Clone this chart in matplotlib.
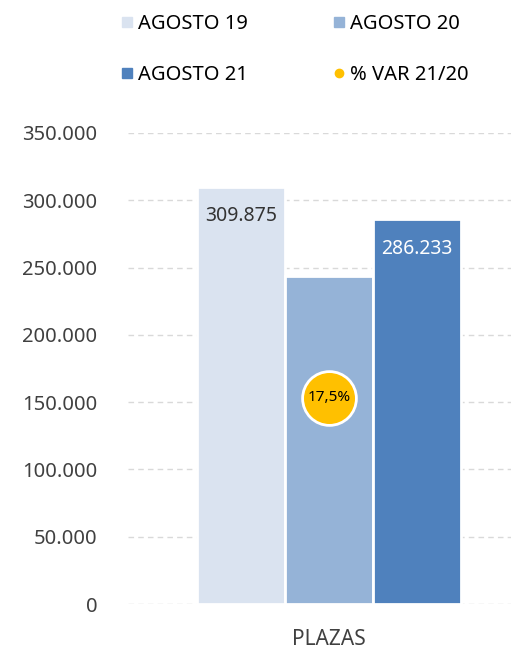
import matplotlib.pyplot as plt
from matplotlib.lines import Line2D

plt.rcParams['font.family'] = ['Noto Sans', 'DejaVu Sans']

series = ["AGOSTO 19", "AGOSTO 20", "AGOSTO 21"]
values = [309875, 243600, 286233]
colors = ["#dae3f0", "#95b3d7", "#4f81bd"]
category = "PLAZAS"
var_label = "% VAR 21/20"
var_value = 0.175
yticks = [0, 50000, 100000, 150000, 200000, 250000, 300000, 350000]


def fmt(v):
    return f"{v:,.0f}".replace(",", ".")


fig = plt.figure(figsize=(5.11, 6.5), dpi=100)
ax = fig.add_axes([128 / 511, 46 / 650, 383 / 511, 471 / 650])

w = 0.23
offsets = [-w, 0, w]
for name, val, col, off in zip(series, values, colors, offsets):
    ax.bar(off, val, width=w, color=col, edgecolor="white", linewidth=2, zorder=2, label=name)

# data labels for first and last bars
ax.annotate(fmt(values[0]), (offsets[0], values[0]), xytext=(0, -21), textcoords="offset points",
            ha="center", va="center", fontsize=14, color="#333333", fontweight="light", zorder=3)
ax.annotate(fmt(values[2]), (offsets[2], values[2]), xytext=(0, -22), textcoords="offset points",
            ha="center", va="center", fontsize=14, color="white", zorder=3)

ax.set_ylim(0, 350000)
ax.set_xlim(-0.525, 0.475)
ax.set_yticks(yticks)
ax.set_yticklabels([fmt(t) for t in yticks], fontsize=14.5, color="#404040", fontweight="light")
ax.set_xticks([0])
ax.set_xticklabels([category], fontsize=15, color="#404040", fontweight="light")
ax.tick_params(axis="y", length=0, pad=22)
ax.tick_params(axis="x", length=0, pad=18)
ax.grid(axis="y", color="#d9d9d9", linestyle=(0, (4, 3)), linewidth=1, zorder=0)
ax.set_axisbelow(True)
for s in ax.spines.values():
    s.set_visible(False)

# % variation on a secondary scale
ax2 = ax.twinx()
ax2.set_ylim(0, 0.4)
ax2.axis("off")
ax2.scatter([0], [var_value], s=1500, color="#ffc000", edgecolor="white", linewidth=2, zorder=4)
ax2.text(0, var_value, f"{var_value * 100:.1f}%".replace(".", ","), ha="center", va="center",
         fontsize=11, fontweight="bold", color="black", zorder=5)

handles = [Line2D([], [], marker="s", linestyle="none", markersize=7, color=c) for c in colors]
handles.append(Line2D([], [], marker="o", linestyle="none", markersize=6, color="#ffc000"))
labels = series + [var_label]
order = [0, 2, 1, 3]
fig.legend([handles[i] for i in order], [labels[i] for i in order], ncol=2,
           loc="upper left", bbox_to_anchor=(99 / 511, 1.007), frameon=False,
           fontsize=14.5, handletextpad=0.05, columnspacing=4.0, labelspacing=1.55,
           handlelength=1.0, labelcolor="black")

fig.savefig("out.png", dpi=100)
